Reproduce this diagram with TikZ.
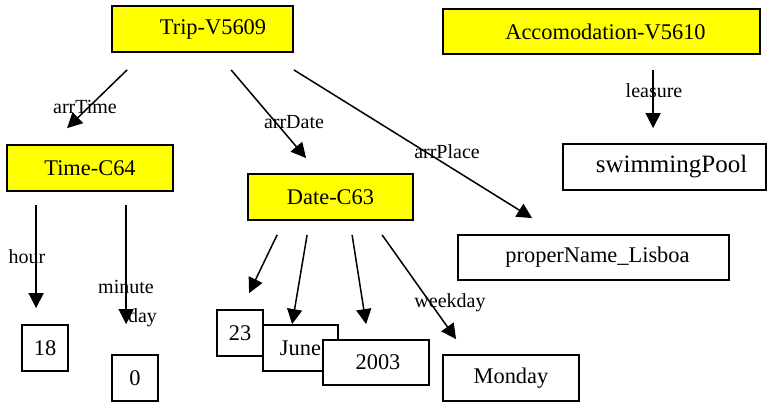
\documentclass[tikz,border=0pt]{standalone}
\usepackage{fontspec}
\setmainfont{Liberation Serif}
\usetikzlibrary{arrows.meta}

\definecolor{conceptyellow}{RGB}{255,255,0}

\tikzset{
  box/.style={draw=black, line width=1.8pt, fill=white, inner sep=0pt,
    font=\fontsize{22.4}{26}\selectfont},
  ybox/.style={box, fill=conceptyellow},
  rel/.style={line width=1.5pt, -{Triangle[length=15pt,width=15pt]}},
  rellabel/.style={inner sep=0pt, font=\fontsize{20}{24}\selectfont}
}

\begin{document}
\begin{tikzpicture}[x=1pt,y=-1pt]
\useasboundingbox (0,0) rectangle (769,402);

% concept and value boxes
\node[ybox, minimum width=181pt, minimum height=46pt] (trip) at (202.5,29) {\hspace{21pt}Trip-V5609};
\node[ybox, minimum width=317pt, minimum height=45pt] (accom) at (601.5,31.5) {\hspace{8pt}Accomodation-V5610};
\node[ybox, minimum width=166pt, minimum height=46pt] (time) at (90,168) {Time-C64\hspace{11pt}};
\node[ybox, minimum width=165pt, minimum height=46pt] (date) at (330.5,197) {Date-C63\hspace{16pt}};
\node[box, minimum width=203pt, minimum height=46pt, font=\fontsize{25}{29}\selectfont] (swim) at (664.5,167) {\hspace{14pt}swimmingPool};
\node[box, minimum width=271pt, minimum height=45pt] (proper) at (593.5,257.5) {\hspace{8pt}properName\_Lisboa};
\node[box, minimum width=46pt, minimum height=46pt] (h18) at (45,348) {18\hspace{6pt}};
\node[box, minimum width=46pt, minimum height=46pt] (m0) at (135,378) {0};
\node[box, minimum width=46pt, minimum height=46pt] (d23) at (240,333) {23\hspace{6pt}};
\node[box, minimum width=75pt, minimum height=46pt] (june) at (300.5,348) {June\hspace{17pt}};
\node[box, minimum width=106pt, minimum height=45pt] (y2003) at (376,362.5) {\hspace{4pt}2003};
\node[box, minimum width=136pt, minimum height=46pt] (monday) at (511,378) {Monday\hspace{25pt}};

% relation labels
\node[rellabel] (lArrTime) at (85,107) {arrTime};
\node[rellabel] (lArrDate) at (294,122) {arrDate};
\node[rellabel] (lArrPlace) at (447,152) {arrPlace};
\node[rellabel] (lLeasure) at (654,91) {leasure};
\node[rellabel] (lHour) at (27,257) {hour};
\node[rellabel] (lMinute) at (126,287) {minute};
\node[rellabel] (lDay) at (142.5,318) {day};
\node[rellabel] (lWeekday) at (450,303) {weekday};

% relations
\draw[rel] ([shift={(16,17)}]trip.south west) -- ([shift={(61,-16)}]time.north west);
\draw[rel] ([shift={(120,17)}]trip.south west) -- ([shift={(59,-15)}]date.north west);
\draw[rel] ([shift={(0,17)}]trip.south east) -- ([shift={(75,-16)}]proper.north west);
\draw[rel] ([shift={(211,15)}]accom.south west) -- ([shift={(91,-15)}]swim.north west);
\draw[rel] ([shift={(30,13)}]time.south west) -- ([shift={(15,-16)}]h18.north west);
\draw[rel] ([shift={(120,13)}]time.south west) -- ([shift={(15,-30)}]m0.north west);
\draw[rel] ([shift={(30,14)}]date.south west) -- ([shift={(33,-16)}]d23.north west);
\draw[rel] ([shift={(60,14)}]date.south west) -- ([shift={(30,0)}]june.north west);
\draw[rel] ([shift={(105,14)}]date.south west) -- ([shift={(44,-15)}]y2003.north west);
\draw[rel] ([shift={(135,14)}]date.south west) -- ([shift={(14,-15)}]monday.north west);
\end{tikzpicture}
\end{document}
